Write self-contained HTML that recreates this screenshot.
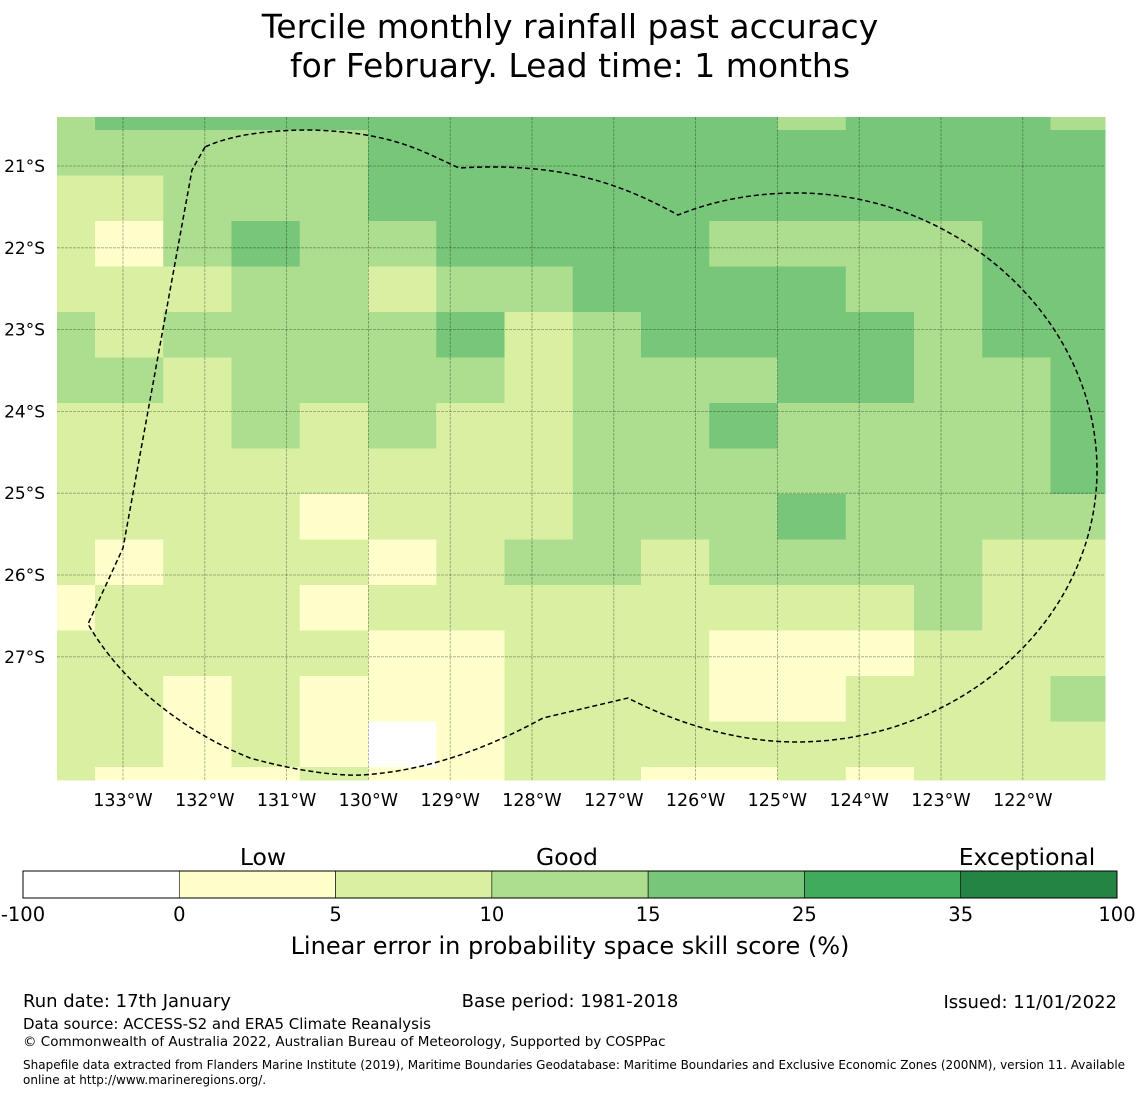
<!DOCTYPE html>
<html><head><meta charset="utf-8"><style>
body{margin:0;background:#fff;width:1140px;height:1095px;overflow:hidden;font-family:"Liberation Sans","DejaVu Sans",sans-serif}
svg{display:block}
text{font-family:"DejaVu Sans","Liberation Sans",sans-serif;fill:#000}
</style></head><body>
<svg id="chart" width="1140" height="1095">
<text x="570" y="38" font-size="33" text-anchor="middle">Tercile monthly rainfall past accuracy</text>
<text x="570" y="77" font-size="33" text-anchor="middle">for February. Lead time: 1 months</text>
<g id="map"></g>
<g id="cbar"></g>
<text x="570" y="954" font-size="24" text-anchor="middle">Linear error in probability space skill score (%)</text>
<text x="23" y="1007" font-size="18">Run date: 17th January</text>
<text x="570" y="1007" font-size="18" text-anchor="middle">Base period: 1981-2018</text>
<text x="1117" y="1008" font-size="18" text-anchor="end">Issued: 11/01/2022</text>
<text x="23" y="1029" font-size="15">Data source: ACCESS-S2 and ERA5 Climate Reanalysis</text>
<text x="23" y="1046" font-size="13.5">© Commonwealth of Australia 2022, Australian Bureau of Meteorology, Supported by COSPPac</text>
<text x="23" y="1069" font-size="12">Shapefile data extracted from Flanders Marine Institute (2019), Maritime Boundaries Geodatabase: Maritime Boundaries and Exclusive Economic Zones (200NM), version 11. Available</text>
<text x="23" y="1084" font-size="12">online at http://www.marineregions.org/.</text>
</svg>
<script>
// colour classes: W <0, Y 0-5, L 5-10, M 10-15, G 15-25, D 25-35, E 35-100
const gridRows = [
"MGGGGGGGGGGMGGGM",
"MMMMMGGGGGGGGGGG",
"LLMMMGGGGGGGGGGG",
"LYMGMMGGGGMMMMGG",
"LLLMMLMMGGGGMMGG",
"MLMMMMGLMGGGGMGG",
"MMLMMMMLMMMGGMMG",
"LLLMLMLLMMGMMMMG",
"LLLLLLLLMMMMMMMG",
"LLLLYLLLMMMGMMMM",
"LYLLLYLMMLMMMMLL",
"YLLLYLLLLLLLLMLL",
"LLLLLYYLLLYYYLLL",
"LLYLYYYLLLYYLLLM",
"LLYLYWYLLLLLLLLL",
"LYYYLYYLLYYLYLLL"
];
const classCodes = ["W","Y","L","M","G","D","E"];
const classColors = ["#ffffff","#ffffcc","#d9f0a3","#addd8e","#78c679","#41ab5d","#238443"];
const cbarTicks = ["-100","0","5","10","15","25","35","100"];
const cbarWords = ["Low","Good","Exceptional"];
const lonLabels = ["133°W","132°W","131°W","130°W","129°W","128°W","127°W","126°W","125°W","124°W","123°W","122°W"];
const latLabels = ["21°S","22°S","23°S","24°S","25°S","26°S","27°S"];

const NS="http://www.w3.org/2000/svg";
function mk(tag,attrs,parent){const e=document.createElementNS(NS,tag);for(const k in attrs)e.setAttribute(k,attrs[k]);parent.appendChild(e);return e;}
const map=document.getElementById('map');
const colEdges=[57];for(let i=0;i<16;i++){colEdges.push(i==15?1105:95+68.25*i);}
const rowEdges=[117];for(let i=0;i<16;i++){rowEdges.push(i==15?780:130+45.5*i);}
gridRows.forEach((row,r)=>{
  [...row].forEach((c,ci)=>{
    const rc=mk('rect',{x:colEdges[ci],y:rowEdges[r],width:colEdges[ci+1]-colEdges[ci]+0.5,height:rowEdges[r+1]-rowEdges[r]+0.5,fill:classColors[classCodes.indexOf(c)]},map);
    
    
  });
});
const lonX=i=>123+81.8*i;
const latY=i=>166+81.8*i;
lonLabels.forEach((l,i)=>{
  const ln=mk('line',{x1:lonX(i),x2:lonX(i),y1:117,y2:780,stroke:'#000','stroke-opacity':0.35,'stroke-width':0.8,'stroke-dasharray':'3,1'},map);
  
  
  const t=mk('text',{x:lonX(i),y:806,'font-size':17.5,'text-anchor':'middle'},map);t.textContent=l;
  
  
});
latLabels.forEach((l,i)=>{
  const ln=mk('line',{x1:57,x2:1105,y1:latY(i),y2:latY(i),stroke:'#000','stroke-opacity':0.35,'stroke-width':0.8,'stroke-dasharray':'3,1'},map);
  
  
  const t=mk('text',{x:45,y:latY(i)+6,'font-size':17,'text-anchor':'end'},map);t.textContent=l;
  
  
});
const eez=mk('path',{d:"M205,147 L192,170 L123,548 L88,624 C120,680 180,730 250,758 C300,772 340,776 362,775 C410,772 470,758 543,718 L628,698 C680,725 740,742 796,742 C960,742 1097,620 1097,470 C1097,320 960,193 796,193 C750,193 710,202 678,215 C620,183 560,162 459,168 C420,150 390,132 310,130 C250,130 220,140 205,147 Z",fill:'none',stroke:'#000','stroke-width':1.5,'stroke-dasharray':'5,3'},map);


const cb=document.getElementById('cbar');
const segW=(1117-23)/7;
classColors.forEach((c,i)=>{
  const r=mk('rect',{x:23+segW*i,y:871,width:segW,height:27,fill:c,stroke:'#000','stroke-width':0.6},cb);
  
  
});
const fr=mk('rect',{x:23,y:871,width:1094,height:27,fill:'none',stroke:'#000','stroke-width':1},cb);


cbarTicks.forEach((t,i)=>{
  const e=mk('text',{x:23+segW*i,y:921,'font-size':19.5,'text-anchor':'middle'},cb);e.textContent=t;
  
  
});
const wordX=[263,567,1027];
cbarWords.forEach((w,i)=>{
  const e=mk('text',{x:wordX[i],y:865,'font-size':23.5,'text-anchor':'middle'},cb);e.textContent=w;
  
  
});
</script>
</body></html>
